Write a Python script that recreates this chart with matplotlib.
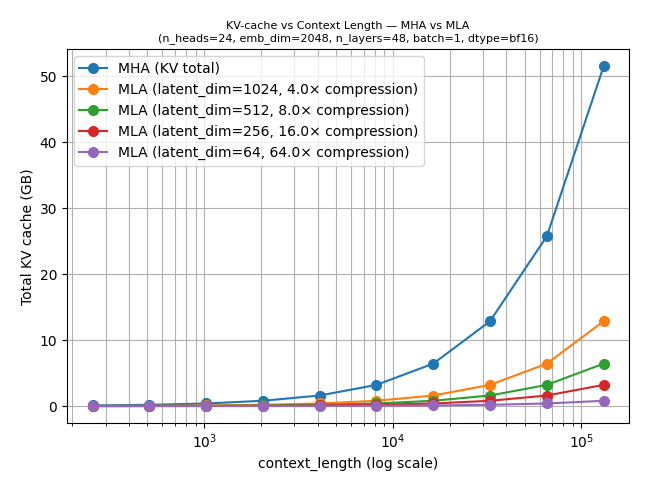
import matplotlib
matplotlib.use("Agg")
import matplotlib.pyplot as plt

# context lengths (tokens)
context_length = [256, 512, 1024, 2048, 4096, 8192, 16384, 32768, 65536, 131072]

# KV cache in GB
mha_total = [0.10, 0.20, 0.40, 0.81, 1.61, 3.22, 6.44, 12.88, 25.77, 51.54]
mla_1024 = [0.025, 0.05, 0.10, 0.20, 0.40, 0.81, 1.61, 3.22, 6.44, 12.88]
mla_512 = [0.013, 0.025, 0.05, 0.10, 0.20, 0.40, 0.81, 1.61, 3.22, 6.44]
mla_256 = [0.006, 0.013, 0.025, 0.05, 0.10, 0.20, 0.40, 0.81, 1.61, 3.22]
mla_64 = [0.002, 0.003, 0.006, 0.013, 0.025, 0.05, 0.10, 0.20, 0.40, 0.81]

labels = [
    "MHA (KV total)",
    "MLA (latent_dim=1024, 4.0\u00d7 compression)",
    "MLA (latent_dim=512, 8.0\u00d7 compression)",
    "MLA (latent_dim=256, 16.0\u00d7 compression)",
    "MLA (latent_dim=64, 64.0\u00d7 compression)",
]

fig, ax = plt.subplots(figsize=(6.5, 4.88), dpi=100)
for ys, lab in zip([mha_total, mla_1024, mla_512, mla_256, mla_64], labels):
    ax.plot(context_length, ys, marker="o", markersize=7, label=lab)

ax.set_xscale("log")
ax.set_xlabel("context_length (log scale)")
ax.set_ylabel("Total KV cache (GB)")
ax.set_title("KV-cache vs Context Length \u2014 MHA vs MLA\n"
             "(n_heads=24, emb_dim=2048, n_layers=48, batch=1, dtype=bf16)",
             fontsize=8)
ax.grid(True, which="both")
ax.legend()
fig.subplots_adjust(left=0.103, right=0.968, top=0.899, bottom=0.133)
fig.savefig("out.png")
